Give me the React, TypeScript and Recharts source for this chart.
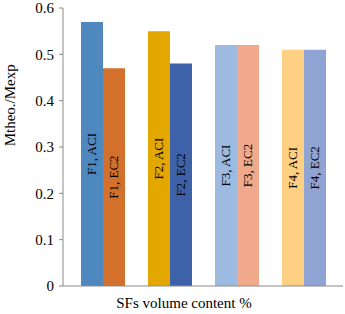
import { BarChart, Bar, XAxis, YAxis, Cell, LabelList, Label } from "recharts";

const groups = ["F1", "F2", "F3", "F4"];
const aciValues = [0.57, 0.55, 0.52, 0.51];
const ec2Values = [0.47, 0.48, 0.52, 0.51];
const yTicks = [0, 0.1, 0.2, 0.3, 0.4, 0.5, 0.6];

const aciColors = ["#4f88bf", "#e2a800", "#9dbbe1", "#fed083"];
const ec2Colors = ["#d2702c", "#3d62aa", "#f0a98a", "#8fa4d3"];

const FONT = "'Liberation Serif', 'Times New Roman', serif";
const AXIS = "#8a8a8a";

const data = groups.map((g, i) => ({
  name: g,
  aci: aciValues[i],
  ec2: ec2Values[i],
  aciLabel: `${g}, ACI`,
  ec2Label: `${g}, EC2`,
}));

const YTitle = (props: any) => {
  const { viewBox } = props;
  const x = viewBox.x + 10;
  const y = viewBox.y + viewBox.height * 0.35;
  return (
    <text
      x={x}
      y={y}
      transform={`rotate(-90, ${x}, ${y})`}
      textAnchor="middle"
      dominantBaseline="central"
      fontFamily={FONT}
      fontSize={15}
      fill="#000"
    >
      Mtheo./Mexp
    </text>
  );
};

const XTitle = (props: any) => {
  const { viewBox } = props;
  const x = viewBox.x + viewBox.width / 2 - 19;
  return (
    <text x={x} y={308} textAnchor="middle" fontFamily={FONT} fontSize={15} fill="#000">
      SFs volume content %
    </text>
  );
};

// rotated label in the middle of each bar
const BarText = (props: any) => {
  const { x, y, width, height, value } = props;
  const cx = x + width / 2;
  const cy = y + height / 2;
  return (
    <text
      x={cx}
      y={cy}
      transform={`rotate(-90, ${cx}, ${cy})`}
      textAnchor="middle"
      dominantBaseline="central"
      fontFamily={FONT}
      fontSize={13}
      fill="#000"
    >
      {value}
    </text>
  );
};

export default function App() {
  return (
    <div style={{ width: 345, height: 314, background: "#fff" }}>
      <style>{`body{margin:0}`}</style>
      <BarChart
        width={345}
        height={314}
        data={data}
        margin={{ top: 8, right: 2, bottom: 0, left: 0 }}
        barGap={0}
        barSize={22}
      >
        <XAxis
          dataKey="name"
          tick={false}
          tickLine={false}
          axisLine={{ stroke: AXIS }}
          padding={{ left: 6, right: 6 }}
          height={28}
        >
          <Label content={<XTitle />} />
        </XAxis>
        <YAxis
          width={63}
          domain={[0, 0.6]}
          ticks={yTicks}
          interval={0}
          tickFormatter={(v: number) => (v === 0 ? "0" : v.toFixed(1))}
          tick={{ fill: "#000", fontSize: 15, fontFamily: FONT }}
          tickLine={{ stroke: AXIS }}
          tickSize={4}
          tickMargin={5}
          axisLine={{ stroke: AXIS }}
        >
          <Label content={<YTitle />} />
        </YAxis>
        <Bar dataKey="aci" isAnimationActive={false}>
          {data.map((d, i) => (
            <Cell key={d.name} fill={aciColors[i]} />
          ))}
          <LabelList dataKey="aciLabel" content={<BarText />} />
        </Bar>
        <Bar dataKey="ec2" isAnimationActive={false}>
          {data.map((d, i) => (
            <Cell key={d.name} fill={ec2Colors[i]} />
          ))}
          <LabelList dataKey="ec2Label" content={<BarText />} />
        </Bar>
      </BarChart>
    </div>
  );
}
